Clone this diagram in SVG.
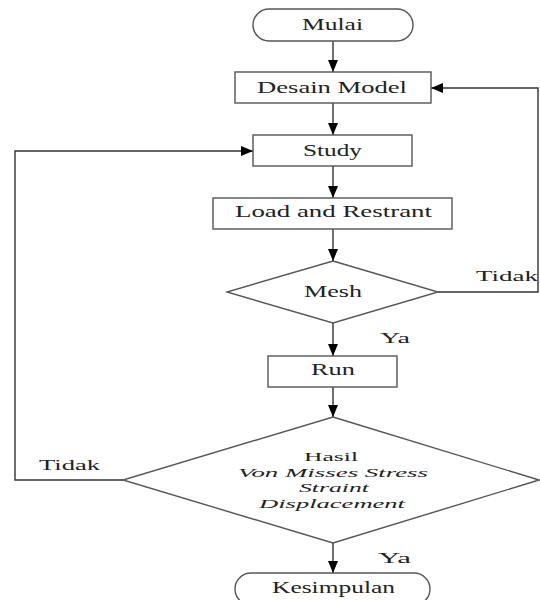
<svg xmlns="http://www.w3.org/2000/svg" width="540" height="600" viewBox="0 0 540 600">
<style>
.shape{fill:#fff;stroke:#555;stroke-width:1.4}
.line{fill:none;stroke:#333;stroke-width:1.4}
.t{font-family:"Liberation Serif","Times New Roman",serif;font-size:17px;fill:#222}
.s{font-family:"Liberation Serif","Times New Roman",serif;font-size:14.5px;fill:#222}
.h{font-family:"Liberation Serif","Times New Roman",serif;font-size:13.5px;fill:#222}
.i{font-style:italic}
</style>
<defs>
<marker id="arr" markerUnits="userSpaceOnUse" markerWidth="12" markerHeight="10" refX="12" refY="5" orient="auto">
<path d="M0,0 L12,5 L0,10 z" fill="#000"/>
</marker>
</defs>
<rect width="540" height="600" fill="#fff"/>
<g id="connectors">
<line class="line" x1="333" y1="41" x2="333" y2="72" marker-end="url(#arr)"/>
<line class="line" x1="333" y1="103" x2="333" y2="135" marker-end="url(#arr)"/>
<line class="line" x1="333" y1="166" x2="333" y2="198" marker-end="url(#arr)"/>
<line class="line" x1="333" y1="229" x2="333" y2="261" marker-end="url(#arr)"/>
<line class="line" x1="333" y1="323" x2="333" y2="356" marker-end="url(#arr)"/>
<line class="line" x1="333" y1="387" x2="333" y2="417" marker-end="url(#arr)"/>
<line class="line" x1="333" y1="543" x2="333" y2="573" marker-end="url(#arr)"/>
<polyline class="line" points="438,292 538,292 538,88 431,88" marker-end="url(#arr)"/>
<polyline class="line" points="123,480 15,480 15,151 253,151" marker-end="url(#arr)"/>
<text class="s" x="476" y="281" textLength="62" lengthAdjust="spacingAndGlyphs">Tidak</text>
<text class="s" x="380" y="343" textLength="30" lengthAdjust="spacingAndGlyphs">Ya</text>
<text class="s" x="39" y="470" textLength="61" lengthAdjust="spacingAndGlyphs">Tidak</text>
<text class="s" x="378" y="563" textLength="33" lengthAdjust="spacingAndGlyphs">Ya</text>
</g>
<g id="mulai">
<rect class="shape" x="253" y="9" width="160" height="32" rx="16" ry="16"/>
<text class="t" x="302" y="30" textLength="61" lengthAdjust="spacingAndGlyphs">Mulai</text>
</g>
<g id="desain-model">
<rect class="shape" x="235" y="72" width="196" height="31"/>
<text class="t" x="257" y="93" textLength="150" lengthAdjust="spacingAndGlyphs">Desain Model</text>
</g>
<g id="study">
<rect class="shape" x="253" y="135" width="159" height="31"/>
<text class="t" x="303" y="156" textLength="59" lengthAdjust="spacingAndGlyphs">Study</text>
</g>
<g id="load">
<rect class="shape" x="213" y="198" width="239" height="31"/>
<text class="t" x="235" y="217" textLength="197" lengthAdjust="spacingAndGlyphs">Load and Restrant</text>
</g>
<g id="mesh">
<polygon class="shape" points="333,261 438,292 333,323 227,292"/>
<text class="t" x="304" y="297" textLength="58" lengthAdjust="spacingAndGlyphs">Mesh</text>
</g>
<g id="run">
<rect class="shape" x="268" y="356" width="129" height="31"/>
<text class="t" x="311" y="375" textLength="44" lengthAdjust="spacingAndGlyphs">Run</text>
</g>
<g id="hasil">
<polygon class="shape" points="333,417 539,480 333,543 123,480"/>
<text class="h" x="304" y="461" textLength="54" lengthAdjust="spacingAndGlyphs">Hasil</text>
<text class="h i" x="238" y="476.5" textLength="190" lengthAdjust="spacingAndGlyphs">Von Misses Stress</text>
<text class="h i" x="299" y="492" textLength="70" lengthAdjust="spacingAndGlyphs">Straint</text>
<text class="h i" x="259" y="507.5" textLength="146" lengthAdjust="spacingAndGlyphs">Displacement</text>
</g>
<g id="kesimpulan">
<rect class="shape" x="235" y="573" width="195" height="32" rx="16" ry="16"/>
<text class="t" x="272" y="593" textLength="123" lengthAdjust="spacingAndGlyphs">Kesimpulan</text>
</g>
</svg>
